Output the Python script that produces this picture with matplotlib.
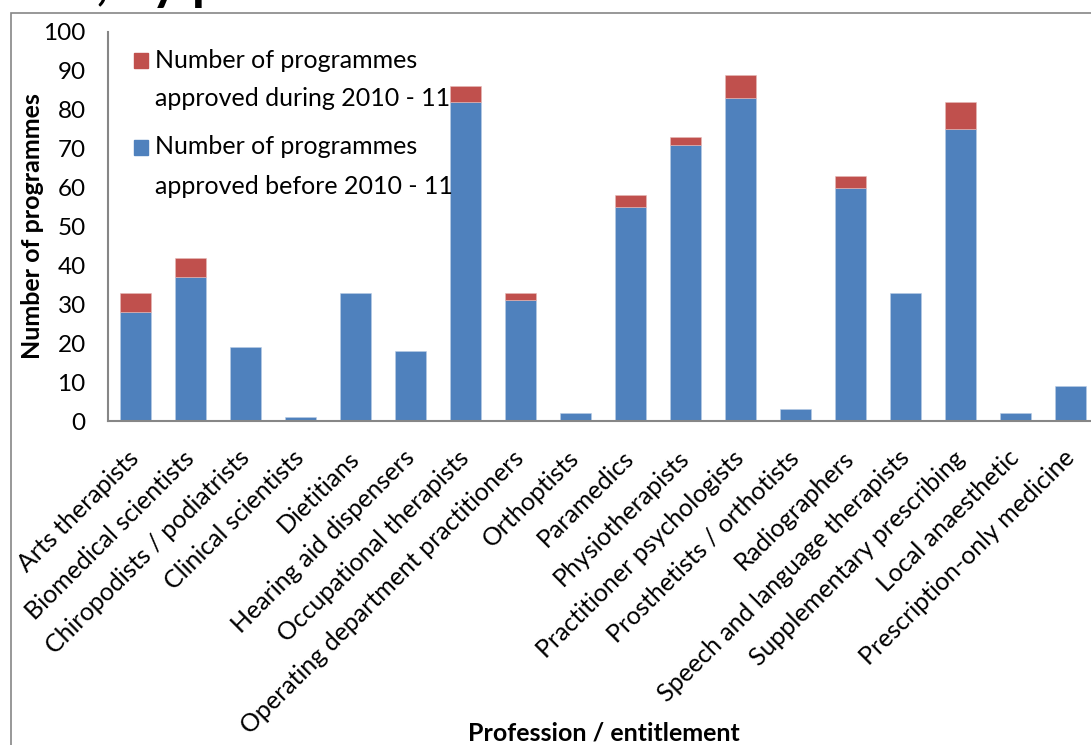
import numpy as np
import matplotlib.pyplot as plt
from matplotlib.patches import Rectangle

plt.rcParams['font.family'] = ['Lato', 'DejaVu Sans']

professions = [
    "Arts therapists", "Biomedical scientists", "Chiropodists / podiatrists",
    "Clinical scientists", "Dietitians", "Hearing aid dispensers",
    "Occupational therapists", "Operating department practitioners",
    "Orthoptists", "Paramedics", "Physiotherapists",
    "Practitioner psychologists", "Prosthetists / orthotists",
    "Radiographers", "Speech and language therapists",
    "Supplementary prescribing", "Local anaesthetic",
    "Prescription-only medicine",
]
approved_before = [28, 37, 19, 1, 33, 18, 82, 31, 2, 55, 71, 83, 3, 60, 33, 75, 2, 9]
approved_during = [5, 5, 0, 0, 0, 0, 4, 2, 0, 3, 2, 6, 0, 3, 0, 7, 0, 0]
series_labels = ["Number of programmes\napproved during 2010 - 11",
                 "Number of programmes\napproved before 2010 - 11"]

blue = "#4F81BD"
red = "#C0504D"
grey = "#868686"

W, H = 1091, 745
fig = plt.figure(figsize=(W / 100, H / 100), dpi=100)

# axes placed in pixel terms of the reference
left, right, top, bottom = 108, 1098, 32, 421
ax = fig.add_axes([left / W, 1 - bottom / H, (right - left) / W, (bottom - top) / H])

x = np.arange(len(professions))
ax.bar(x, approved_before, width=0.57, color=blue, edgecolor="#B9CDE5", linewidth=0.4)
# no outline on empty red segments, otherwise a thin line shows on top of the blue
red_edges = ["#E6B9B8" if v > 0 else "none" for v in approved_during]
ax.bar(x, approved_during, width=0.57, bottom=approved_before, color=red,
       edgecolor=red_edges, linewidth=0.4)

ax.set_xlim(-0.5, len(professions) - 0.5)
ax.set_ylim(0, 100)
ax.set_yticks(range(0, 101, 10))
ax.tick_params(axis='y', length=0, pad=16, labelsize=17.5)
ax.tick_params(axis='x', length=0, pad=24)
ax.set_xticks(x)
ax.set_xticklabels(professions, rotation=45, ha='right', va='center',
                   rotation_mode='anchor', fontsize=18)

for s in ['top', 'right']:
    ax.spines[s].set_visible(False)
for s in ['left', 'bottom']:
    ax.spines[s].set_color(grey)
    ax.spines[s].set_linewidth(1.5)

ax.set_ylabel("Number of programmes", fontsize=18, fontweight='bold')
ax.yaxis.set_label_coords(-64 / (right - left), 0.5)
fig.text(604 / W, 1 - 733 / H, "Profession / entitlement", fontsize=18,
         fontweight='bold', ha='center', va='center')

# legend drawn by hand: square beside first line, loose line spacing
for i, (lab, col) in enumerate(zip(series_labels, [red, blue])):
    y0 = 60 + i * 87
    fig.patches.append(Rectangle((134 / W, 1 - (y0 + 7.5) / H), 14 / W, 15 / H,
                                 transform=fig.transFigure, color=col))
    for j, line in enumerate(lab.split("\n")):
        fig.text(155 / W, 1 - (y0 + j * 39) / H, line, fontsize=18,
                 ha='left', va='center')

# outer chart-area border and the clipped title above it
fig.patches.append(Rectangle((11 / W, -0.1), 1.2, 1 - 13 / H + 0.1,
                             transform=fig.transFigure, fill=False,
                             edgecolor=grey, linewidth=1.2))
fig.text(96 / W, 1 + 1 / H, ", by profession", fontsize=38, fontweight='bold',
         ha='left', va='baseline')

fig.savefig("out.png", dpi=100)
